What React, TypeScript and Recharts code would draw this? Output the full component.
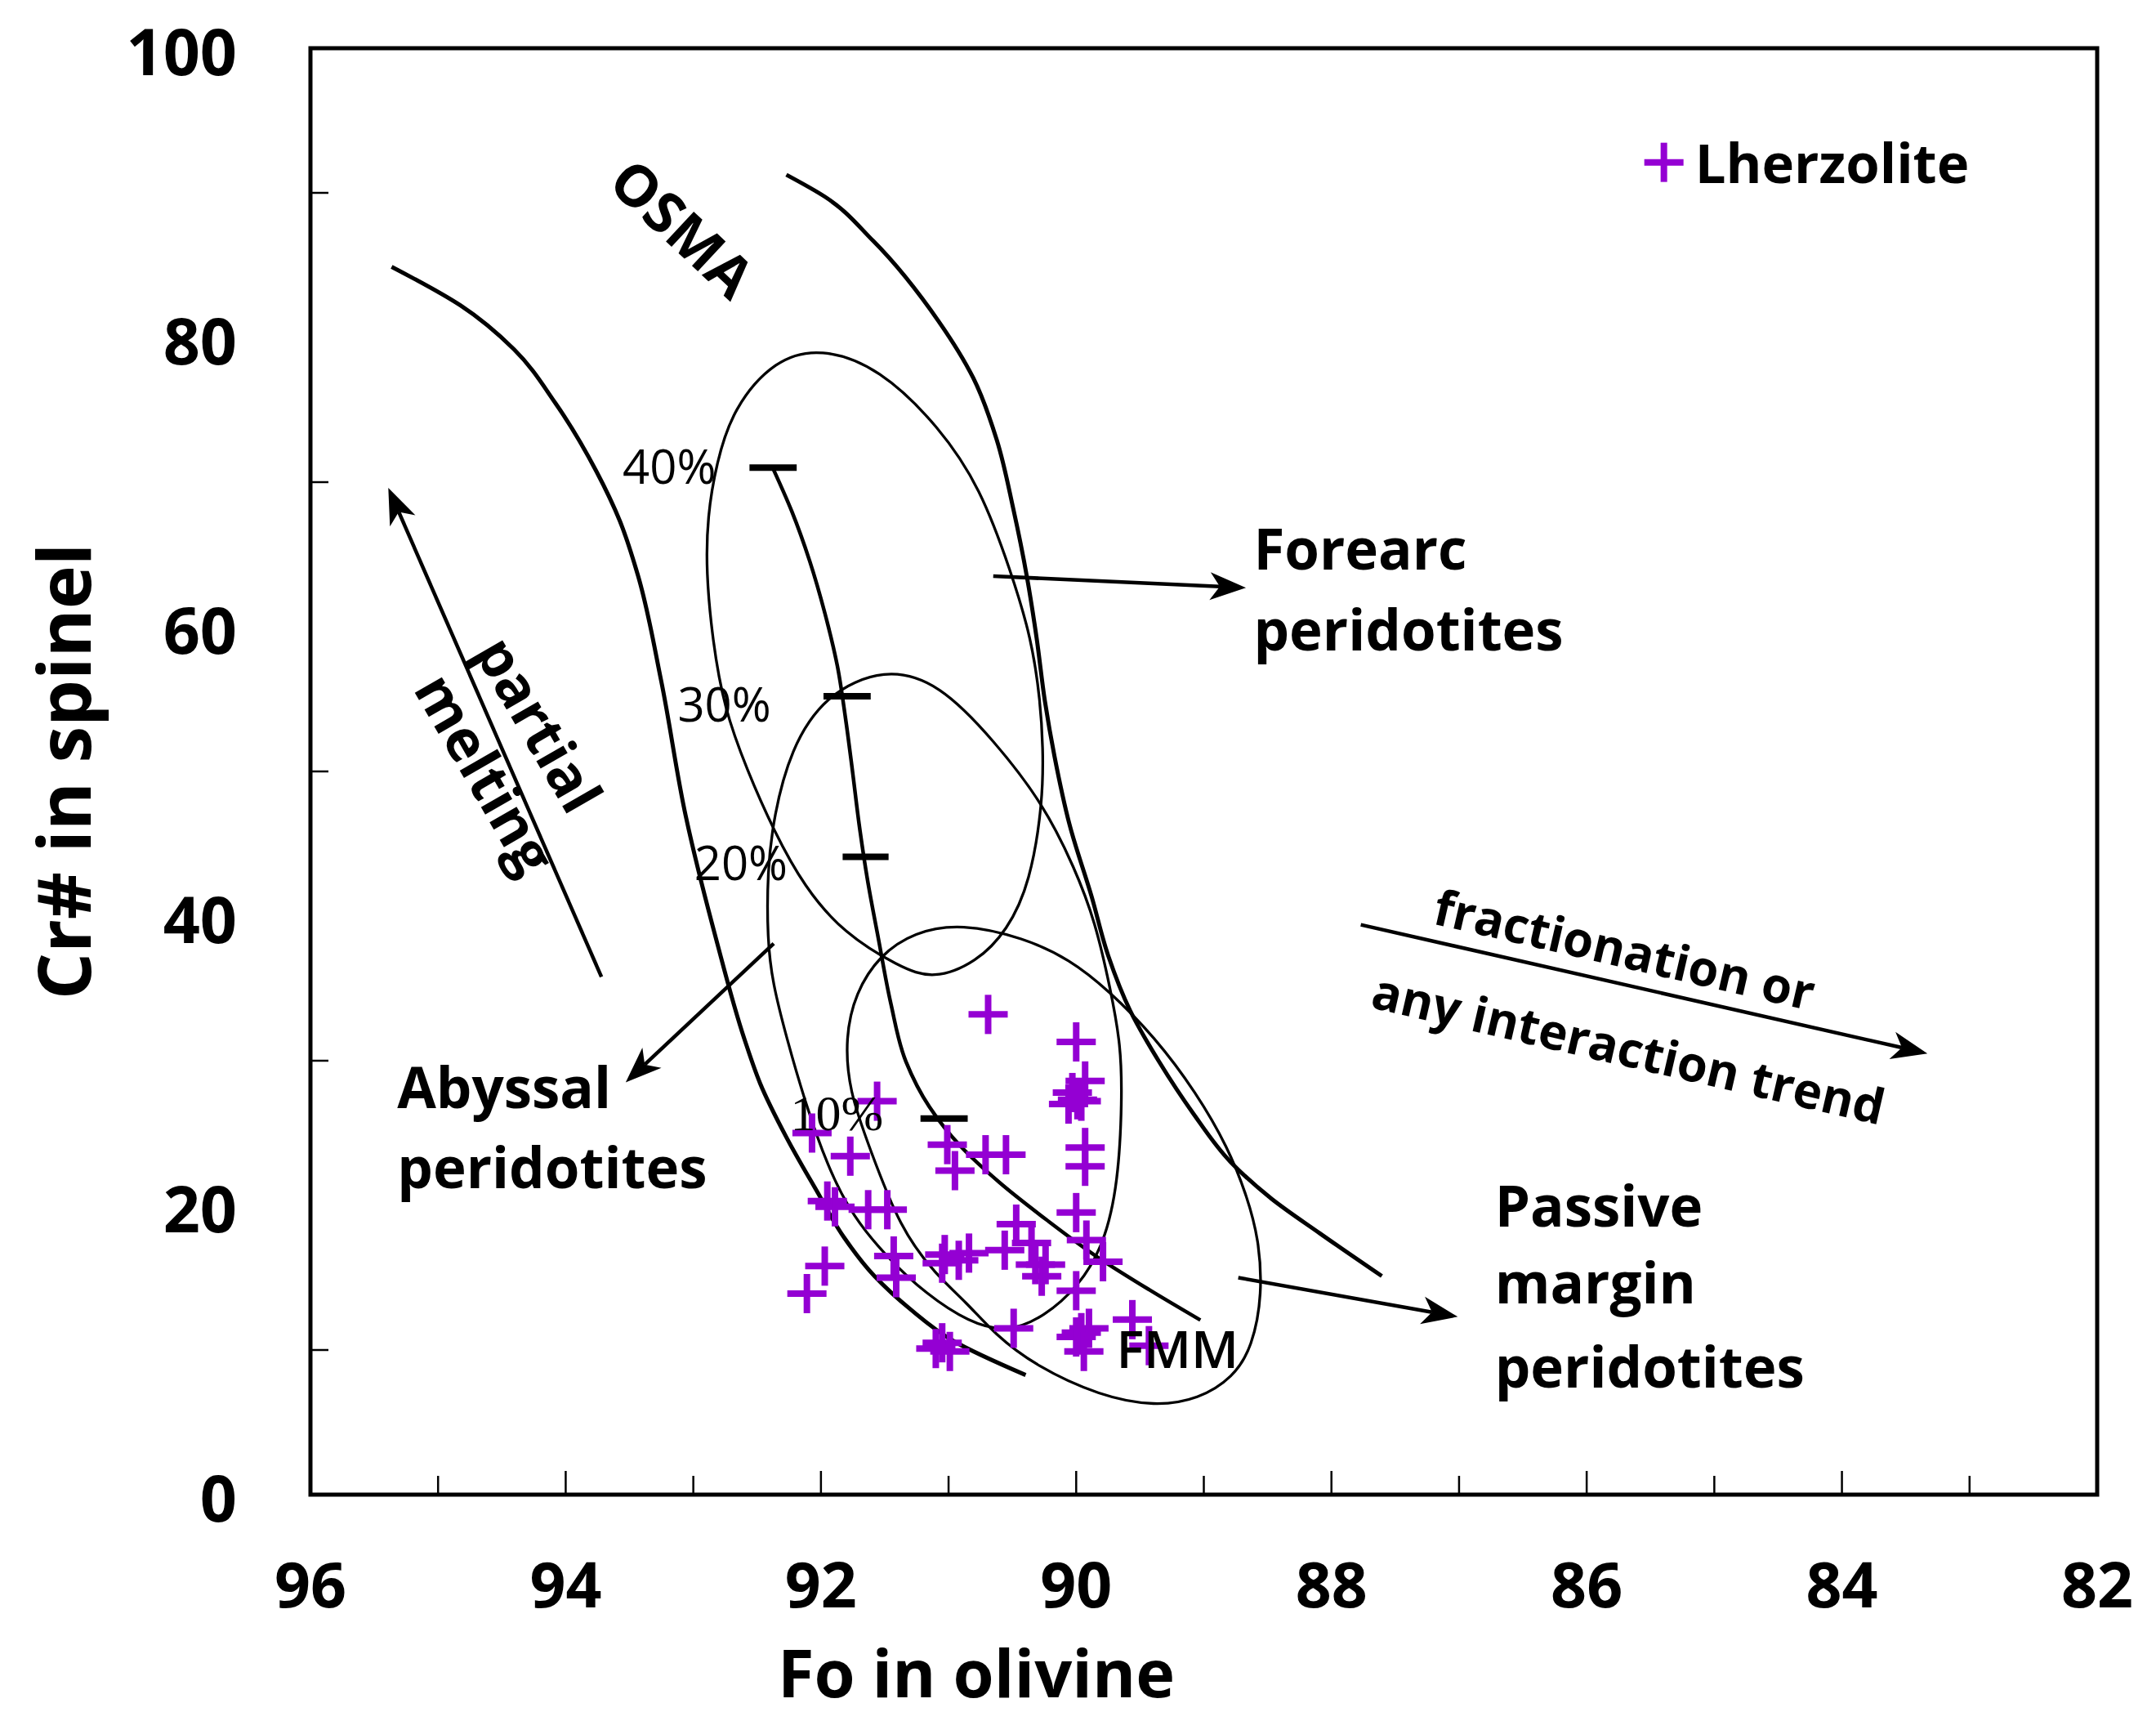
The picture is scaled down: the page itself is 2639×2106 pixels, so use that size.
import React from 'react';
import {
  ComposedChart,
  XAxis,
  YAxis,
  Line,
  Scatter,
  ReferenceArea,
  ReferenceLine,
  ReferenceDot,
} from 'recharts';

const SANS = "'Open Sans', 'DejaVu Sans', sans-serif";
const SERIF = "'Liberation Serif', 'DejaVu Serif', serif";
const PURPLE = '#9400d3';

const xTicks = [82, 83, 84, 85, 86, 87, 88, 89, 90, 91, 92, 93, 94, 95, 96];
const yTicks = [0, 10, 20, 30, 40, 50, 60, 70, 80, 90, 100];

type Pt = { x: number; y: number };
const pts = (rows: number[][]): Pt[] => rows.map(([x, y]) => ({ x, y }));

// Lherzolite samples: [Fo in olivine, Cr# in spinel]
const lherzolite = pts([
  [90.69, 33.2], [90.0, 31.3], [89.93, 28.6], [90.06, 27.0], [89.99, 27.3], [90.03, 27.8],
  [89.96, 27.2], [89.93, 24.0], [89.93, 22.7], [90.0, 19.5], [89.92, 17.6], [91.01, 24.2],
  [90.95, 22.4], [90.71, 23.5], [90.55, 23.5], [91.56, 27.2], [92.07, 25.0], [91.77, 23.4],
  [91.95, 20.3], [91.89, 19.9], [91.63, 19.7], [91.48, 19.7], [91.97, 15.8], [92.11, 13.9],
  [91.43, 16.5], [91.41, 15.0], [91.05, 16.0], [91.03, 16.6], [90.92, 16.2], [90.84, 16.7],
  [90.56, 16.9], [90.47, 18.7], [90.35, 17.4], [90.32, 15.9], [90.27, 15.1], [90.24, 15.9],
  [90.0, 14.1], [89.79, 16.1], [90.49, 11.5], [91.05, 10.5], [90.99, 9.9], [91.1, 10.1],
  [89.96, 11.2], [89.9, 11.5], [90.0, 10.9], [89.94, 9.9], [89.56, 12.1], [89.43, 10.3],
]);

// olivine-spinel mantle array (OSMA) boundaries
const osmaLeft = pts([
  [95.364, 84.89], [94.825, 82.22], [94.405, 79.18], [94.082, 75.48], [93.758, 70.72],
  [93.575, 67.3], [93.435, 63.59], [93.252, 56.27], [93.058, 46.86], [92.821, 38.4],
  [92.595, 31.37], [92.476, 28.42], [92.271, 24.71], [92.034, 21.01], [91.819, 17.78],
  [91.581, 15.11], [91.301, 12.83], [90.967, 10.65], [90.396, 8.27],
]);
const osmaRight = pts([
  [92.271, 91.25], [91.969, 89.73], [91.592, 86.69], [91.075, 81.08], [90.806, 77.19],
  [90.622, 72.91], [90.493, 68.16], [90.385, 63.4], [90.31, 59.22], [90.245, 54.85],
  [90.17, 51.05], [90.051, 46.29], [89.879, 41.35], [89.749, 37.26], [89.577, 33.46],
  [89.351, 29.94], [89.081, 26.33], [88.79, 23.0], [88.467, 20.44], [88.09, 18.06],
  [87.605, 15.11],
]);
const meltingTrend = pts([
  [92.379, 71.01], [92.228, 67.97], [92.088, 64.54], [91.969, 60.93], [91.872, 57.32],
  [91.808, 53.71], [91.754, 50.1], [91.7, 46.29], [91.635, 42.49], [91.549, 38.4],
  [91.452, 33.94], [91.334, 29.94], [91.15, 26.81], [90.902, 24.05], [90.601, 21.58],
  [90.234, 19.01], [89.836, 16.44], [89.426, 14.16], [89.027, 12.07],
]);

// fields (closed outlines)
const forearcField = pts([
  [92.0, 79.3], [91.54, 77.9], [91.07, 73.8], [90.75, 69.6], [90.51, 63.8], [90.35, 59.2],
  [90.28, 54.8], [90.26, 51.7], [90.26, 48.0], [90.36, 42.3], [90.54, 39.0], [90.78, 36.8],
  [91.12, 35.6], [91.39, 36.5], [91.82, 38.8], [92.13, 42.0], [92.37, 45.9], [92.58, 50.1],
  [92.76, 54.4], [92.85, 59.1], [92.9, 63.8], [92.89, 67.6], [92.82, 71.3], [92.69, 75.1],
  [92.36, 78.5],
]);
const abyssalField = pts([
  [91.5, 57.2], [91.07, 56.1], [90.64, 52.1], [90.26, 47.8], [90.01, 43.3], [89.85, 39.6],
  [89.73, 34.9], [89.65, 31.1], [89.64, 27.3], [89.67, 21.6], [89.78, 17.3], [89.98, 14.4],
  [90.25, 12.3], [90.54, 11.2], [90.84, 11.9], [91.18, 13.9], [91.47, 16.3], [91.75, 19.2],
  [91.95, 22.7], [92.13, 27.3], [92.27, 31.6], [92.38, 35.4], [92.42, 38.4], [92.42, 43.1],
  [92.37, 46.9], [92.24, 51.5], [91.97, 55.3],
]);
const passiveField = pts([
  [90.9, 39.5], [90.41, 38.5], [90.05, 37.0], [89.75, 34.9], [89.38, 31.6], [89.06, 27.8],
  [88.81, 24.0], [88.66, 20.6], [88.57, 17.7], [88.54, 13.9], [88.62, 10.2], [88.77, 8.1],
  [89.04, 6.6], [89.38, 6.1], [89.81, 6.8], [90.32, 8.9], [90.64, 11.1], [90.86, 13.3],
  [91.1, 15.2], [91.38, 18.4], [91.62, 24.0], [91.78, 27.9], [91.81, 31.6], [91.73, 34.7],
  [91.54, 37.3], [91.27, 38.9],
]);

// degree of partial melting along the trend
const meltMarks = [
  { label: '40%', from: 92.56, to: 92.19, y: 71.0 },
  { label: '30%', from: 91.98, to: 91.61, y: 55.2 },
  { label: '20%', from: 91.83, to: 91.47, y: 44.1 },
  { label: '10%', from: 91.22, to: 90.85, y: 26.0 },
];

const arrows = [
  { from: [93.72, 35.8], to: [95.39, 69.6] },
  { from: [90.65, 63.5], to: [88.67, 62.7] },
  { from: [92.37, 38.1], to: [93.53, 28.5] },
  { from: [88.73, 15.0], to: [87.01, 12.3] },
  { from: [87.77, 39.4], to: [83.33, 30.5] },
];

type Note = {
  text: string;
  x: number;
  y: number;
  size: number;
  weight?: number;
  rotate?: number;
  center?: boolean;
  font?: string;
};

const notes: Note[] = [
  { text: 'OSMA', x: 93.08, y: 87.6, size: 70, weight: 700, rotate: 43, center: true },
  { text: 'partial', x: 94.2, y: 53.3, size: 70, weight: 700, rotate: 60, center: true },
  { text: 'melting', x: 94.62, y: 49.9, size: 70, weight: 700, rotate: 60, center: true },
  { text: 'Forearc', x: 88.61, y: 63.97, size: 69, weight: 700 },
  { text: 'peridotites', x: 88.61, y: 58.37, size: 69, weight: 700 },
  { text: 'Abyssal', x: 95.32, y: 26.71, size: 69, weight: 700 },
  { text: 'peridotites', x: 95.32, y: 21.2, size: 69, weight: 700 },
  { text: 'Passive', x: 86.72, y: 18.54, size: 69, weight: 700 },
  { text: 'margin', x: 86.72, y: 13.21, size: 69, weight: 700 },
  { text: 'peridotites', x: 86.72, y: 7.41, size: 69, weight: 700 },
  { text: 'fractionation or', x: 85.7, y: 37.74, size: 60, weight: 700, rotate: 13, center: true },
  { text: 'any interaction trend', x: 85.67, y: 30.89, size: 60, weight: 700, rotate: 13, center: true },
  { text: 'FMM', x: 89.685, y: 8.75, size: 63, weight: 600 },
  { text: '40%', x: 93.554, y: 69.87, size: 58, weight: 400 },
  { text: '30%', x: 93.123, y: 53.42, size: 58, weight: 400 },
  { text: '20%', x: 92.993, y: 42.49, size: 58, weight: 400 },
  { text: '10%', x: 92.239, y: 25.19, size: 62, weight: 400, font: SERIF },
];

const Cross = (props: any) => {
  const { cx, cy } = props;
  if (cx == null || cy == null) return null;
  return (
    <g>
      <line x1={cx - 24} x2={cx + 24} y1={cy} y2={cy} stroke={PURPLE} strokeWidth={8} />
      <line x1={cx} x2={cx} y1={cy - 24} y2={cy + 24} stroke={PURPLE} strokeWidth={8} />
    </g>
  );
};

const ArrowShape = (props: any) => {
  const { x1, y1, x2, y2 } = props;
  const a = Math.atan2(y2 - y1, x2 - x1);
  const c = Math.cos(a);
  const s = Math.sin(a);
  const len = 44;
  const half = 17;
  const back = 32;
  const p1 = [x2 - len * c - half * s, y2 - len * s + half * c];
  const p2 = [x2 - len * c + half * s, y2 - len * s - half * c];
  const n = [x2 - back * c, y2 - back * s];
  return (
    <g>
      <line x1={x1} y1={y1} x2={n[0]} y2={n[1]} stroke='#000' strokeWidth={4.5} />
      <polygon points={`${x2},${y2} ${p1[0]},${p1[1]} ${n[0]},${n[1]} ${p2[0]},${p2[1]}`} fill='#000' />
    </g>
  );
};

const YTick = (props: any) => {
  const { x, y, payload } = props;
  const v = payload.value;
  if (v % 20 === 0) {
    return (
      <text x={x - 90} y={y + 2} textAnchor='end' dominantBaseline='central' fontFamily={SANS} fontWeight={700} fontSize={79} fill='#000'>
        {v}
      </text>
    );
  }
  return <line x1={x} x2={x + 22} y1={y} y2={y} stroke='#000' strokeWidth={2.5} />;
};

const XTick = (props: any) => {
  const { x, y, payload } = props;
  const v = payload.value;
  const even = v % 2 === 0;
  return (
    <g>
      {v > 82 && v < 96 && <line x1={x} x2={x} y1={y} y2={y - (even ? 29 : 23)} stroke='#000' strokeWidth={2.5} />}
      {even && (
        <text x={x} y={y + 108} textAnchor='middle' dominantBaseline='central' fontFamily={SANS} fontWeight={700} fontSize={77} fill='#000'>
          {v}
        </text>
      )}
    </g>
  );
};

const fieldLine = (data: Pt[], type: any, width: number, key: string) => (
  <Line
    key={key}
    data={data}
    dataKey='y'
    type={type}
    stroke='#000'
    strokeWidth={width}
    dot={false}
    activeDot={false}
    isAnimationActive={false}
    legendType='none'
  />
);

export default function App() {
  return (
    <div style={{ position: 'absolute', left: 0, top: 0, background: '#fff' }}>
      <ComposedChart width={2639} height={2106} margin={{ top: 59, right: 72, bottom: 0, left: 0 }}>
        <XAxis
          type='number'
          dataKey='x'
          domain={[82, 96]}
          reversed
          ticks={xTicks}
          interval={0}
          allowDataOverflow
          height={277}
          axisLine={false}
          tickLine={false}
          tickSize={0}
          tickMargin={0}
          tick={<XTick />}
          label={{
            position: 'insideBottom',
            content: (p: any) => {
              const vb = p.viewBox || { x: 380, y: 1829 };
              return (
                <text x={vb.x + 815} y={vb.y + 216} textAnchor='middle' dominantBaseline='central' fontFamily={SANS} fontWeight={700} fontSize={81} fill='#000'>
                  Fo in olivine
                </text>
              );
            },
          }}
        />
        <YAxis
          type='number'
          dataKey='y'
          domain={[0, 100]}
          ticks={yTicks}
          interval={0}
          allowDataOverflow
          width={380}
          axisLine={false}
          tickLine={false}
          tickSize={0}
          tickMargin={0}
          tick={<YTick />}
          label={{
            position: 'insideLeft',
            content: (p: any) => {
              const vb = p.viewBox || { x: 0, y: 59, height: 1770 };
              const cx = vb.x + 76;
              const cy = vb.y + vb.height / 2;
              return (
                <text x={cx} y={cy} transform={`rotate(-90 ${cx} ${cy})`} textAnchor='middle' dominantBaseline='central' fontFamily={SANS} fontWeight={700} fontSize={90} fill='#000'>
                  Cr# in spinel
                </text>
              );
            },
          }}
        />

        <Scatter data={lherzolite} fill={PURPLE} shape={<Cross />} isAnimationActive={false} legendType='none' />

        {fieldLine(osmaLeft, 'monotoneY', 5, 'osma-left')}
        {fieldLine(osmaRight, 'monotoneY', 5, 'osma-right')}
        {fieldLine(meltingTrend, 'monotoneY', 4.5, 'melt')}
        {fieldLine(forearcField, 'basisClosed', 3.3, 'forearc')}
        {fieldLine(abyssalField, 'basisClosed', 3.3, 'abyssal')}
        {fieldLine(passiveField, 'basisClosed', 3.3, 'passive')}

        {meltMarks.map((m) => (
          <ReferenceLine
            key={m.label}
            segment={[{ x: m.from, y: m.y }, { x: m.to, y: m.y }]}
            stroke='#000'
            strokeWidth={8}
            ifOverflow='visible'
          />
        ))}

        {arrows.map((a, i) => (
          <ReferenceLine
            key={`arrow-${i}`}
            segment={[{ x: a.from[0], y: a.from[1] }, { x: a.to[0], y: a.to[1] }]}
            ifOverflow='visible'
            shape={ArrowShape}
          />
        ))}

        {notes.map((n, i) => (
          <ReferenceDot
            key={`note-${i}`}
            x={n.x}
            y={n.y}
            r={0}
            ifOverflow='visible'
            shape={(p: any) => (
              <text
                x={p.cx}
                y={p.cy}
                textAnchor={n.center ? 'middle' : 'start'}
                dominantBaseline={n.center ? 'central' : 'alphabetic'}
                transform={n.rotate ? `rotate(${n.rotate} ${p.cx} ${p.cy})` : undefined}
                fontFamily={n.font || SANS}
                fontWeight={n.weight}
                fontSize={n.size}
                fill='#000'
              >
                {n.text}
              </text>
            )}
          />
        ))}

        {/* legend */}
        <ReferenceDot
          x={85.395}
          y={92.11}
          r={0}
          ifOverflow='visible'
          shape={(p: any) => (
            <g>
              <Cross cx={p.cx} cy={p.cy} />
              <text x={p.cx + 38} y={p.cy + 25} fontFamily={SANS} fontWeight={700} fontSize={67} fill='#000'>
                Lherzolite
              </text>
            </g>
          )}
        />

        <ReferenceArea x1={96} x2={82} y1={0} y2={100} fill='none' stroke='#000' strokeWidth={5} ifOverflow='visible' />
      </ComposedChart>
    </div>
  );
}
